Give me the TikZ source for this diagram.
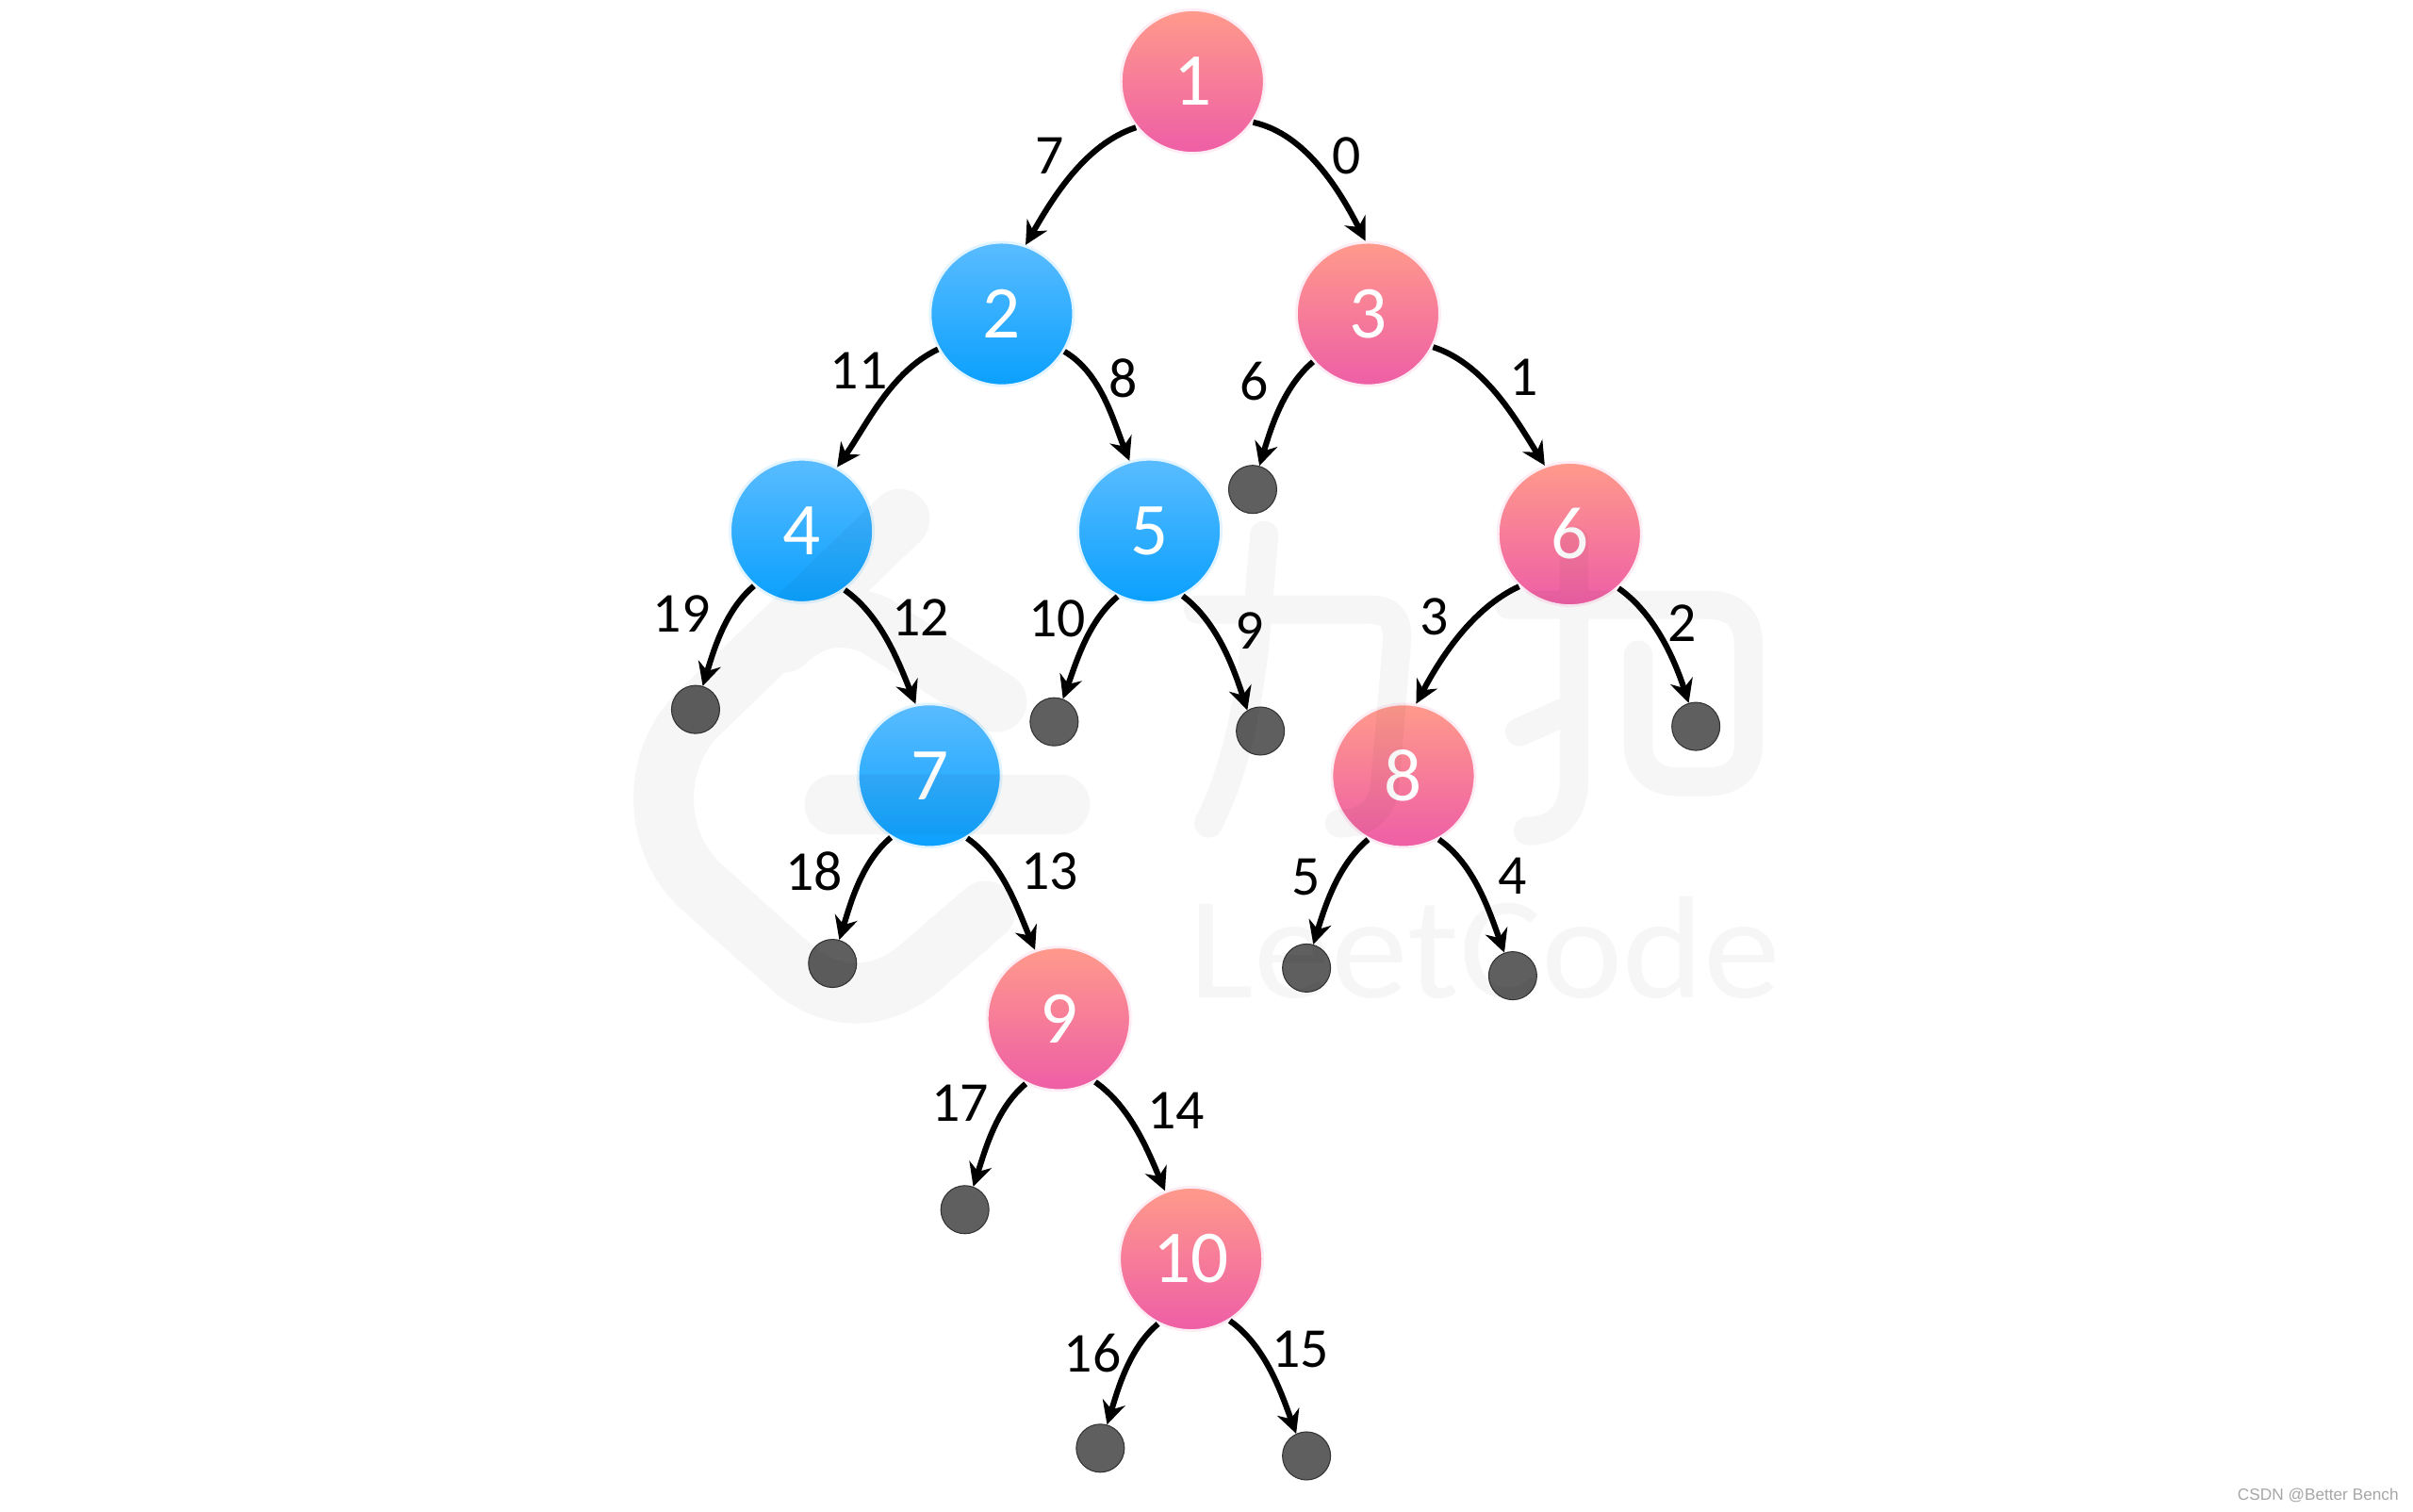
\documentclass[tikz,border=0pt]{standalone}
\usepackage{fontspec}
\usepackage{xcolor}
\usetikzlibrary{arrows.meta}
\setmainfont{Carlito}
\newfontfamily\csdnfont{Liberation Sans}
\definecolor{redtop}{RGB}{255,154,139}
\definecolor{redbot}{RGB}{238,94,166}
\definecolor{bluetop}{RGB}{90,188,255}
\definecolor{bluebot}{RGB}{10,160,254}
\definecolor{leaffill}{RGB}{95,95,95}
\tikzset{
  rednode/.style={circle,minimum size=1.52cm,inner sep=0pt,shade,top color=redtop,bottom color=redbot,draw=redbot!12,line width=0.8pt,text=white,font=\fontsize{22.5}{24}\selectfont},
  bluenode/.style={circle,minimum size=1.52cm,inner sep=0pt,shade,top color=bluetop,bottom color=bluebot,draw=bluebot!12,line width=0.8pt,text=white,font=\fontsize{22.5}{24}\selectfont},
  leaf/.style={circle,minimum size=0.51cm,inner sep=0pt,fill=leaffill,draw=black!80,line width=0.3pt},
  edge/.style={draw=black,line width=1.75pt,looseness=0.85,-{Stealth[length=7pt,width=7pt]}},
  weight/.style={font=\fontsize{17}{19}\selectfont,inner sep=0pt},
  mark1/.style={line width=18.2pt,line cap=round,line join=round},
  mark2/.style={line width=8.6pt,line cap=round,line join=round}
}
\begin{document}
\begin{tikzpicture}[x=0.016327cm,y=-0.016327cm]
  \useasboundingbox (0,0) rectangle (1568,982);
  % tree nodes
  \foreach \n/\x/\y/\s in {1/775/53/rednode,2/651/204/bluenode,3/889/204/rednode,4/521/345/bluenode,5/747/345/bluenode,6/1020/347/rednode,7/604/504/bluenode,8/912/504/rednode,9/688/662/rednode,10/774/818/rednode}{
    \node[\s] (n\n) at (\x,\y) {\n};
  }
  % empty children
  \foreach \n/\x/\y in {a/814/318,b/452/461,c/685/469,d/819/475,e/1102/472,f/541/626,g/849/629,h/983/634,i/627/786,j/715/941,k/849/946}{
    \node[leaf] (l\n) at (\x,\y) {};
  }
  % edges
  \foreach \a/\p/\b/\q/\o/\i in {n1/219/n2/71/198/60,n1/-34/n3/92/-12/117,n2/209/n4/61/205/55,n2/-31/n5/106/-30/112,n3/221/la/74/220/73,n3/-27/n6/110/-18/122,n4/229/lb/73/220/73,n4/-54/n7/101/-35/112,n5/244/lc/69/220/70,n5/-63/ld/122/-37/108,n6/226/n8/80/205/62,n6/-48/le/107/-35/108,n7/238/lf/74/220/73,n7/-59/n9/109/-35/113,n8/241/lg/74/220/73,n8/-61/lh/110/-35/110,n9/243/li/70/220/72,n9/-60/n10/111/-35/113,n10/243/lj/74/220/73,n10/-58/lk/115/-35/110}{
    \draw[edge] (\a.\p) to[out=\o,in=\i] (\b.\q);
  }
  % edge weights
  \foreach \t/\x/\y in {7/682/101,0/875/101,11/558/241,8/730/246,6/815/248,1/990/245,19/443/399,12/598/401,10/687/402,9/812/410,3/932/401,2/1093/405,18/529/566,13/682/566,5/849/570,4/983/569,17/624/717,14/764/722,16/710/879,15/845/877}{
    \node[weight] (w\t) at (\x,\y) {\t};
  }
  \node[anchor=east,inner sep=0pt,text=black!35,font=\csdnfont\fontsize{4.9}{6}\selectfont] (csdn) at (1559,972) {CSDN @Better Bench};
  % watermark, over everything
  \begin{scope}[x=0.01cm,y=-0.01cm,transparency group,opacity=0.035]
    \draw[mark1] (955,551) -- (742,757) .. controls (692,805) and (692,890) .. (742,939) -- (844,1030) .. controls (885,1063) and (935,1063) .. (978,1026) -- (1046,967);
    \draw[mark1] (832,682) .. controls (860,656) and (890,648) .. (928,663) -- (1058,745);
    \draw[mark1] (886,854) -- (1125,854);
    \draw[mark2] (1272,647) -- (1450,647) .. controls (1475,647) and (1484,655) .. (1483,680) -- (1470,834) .. controls (1467,860) and (1450,874) .. (1422,874);
    \draw[mark2] (1342,568) -- (1337,627) .. controls (1330,730) and (1315,810) .. (1283,874);
    \draw[mark2] (1602,642) -- (1812,642) .. controls (1840,642) and (1856,655) .. (1856,685) -- (1856,790) .. controls (1856,815) and (1840,830) .. (1812,830) -- (1782,830) .. controls (1755,830) and (1739,815) .. (1739,790) -- (1739,695);
    \draw[mark2] (1671,574) -- (1671,827) .. controls (1671,860) and (1655,882) .. (1622,882);
    \draw[mark2] (1613,777) -- (1669,752);
    \node[anchor=base west,inner sep=0pt,text=black,font=\fontsize{44}{46}\selectfont] (brand) at (1262,1059) {\scalebox{1.06}[1]{LeetCode}};
  \end{scope}
\end{tikzpicture}
\end{document}
